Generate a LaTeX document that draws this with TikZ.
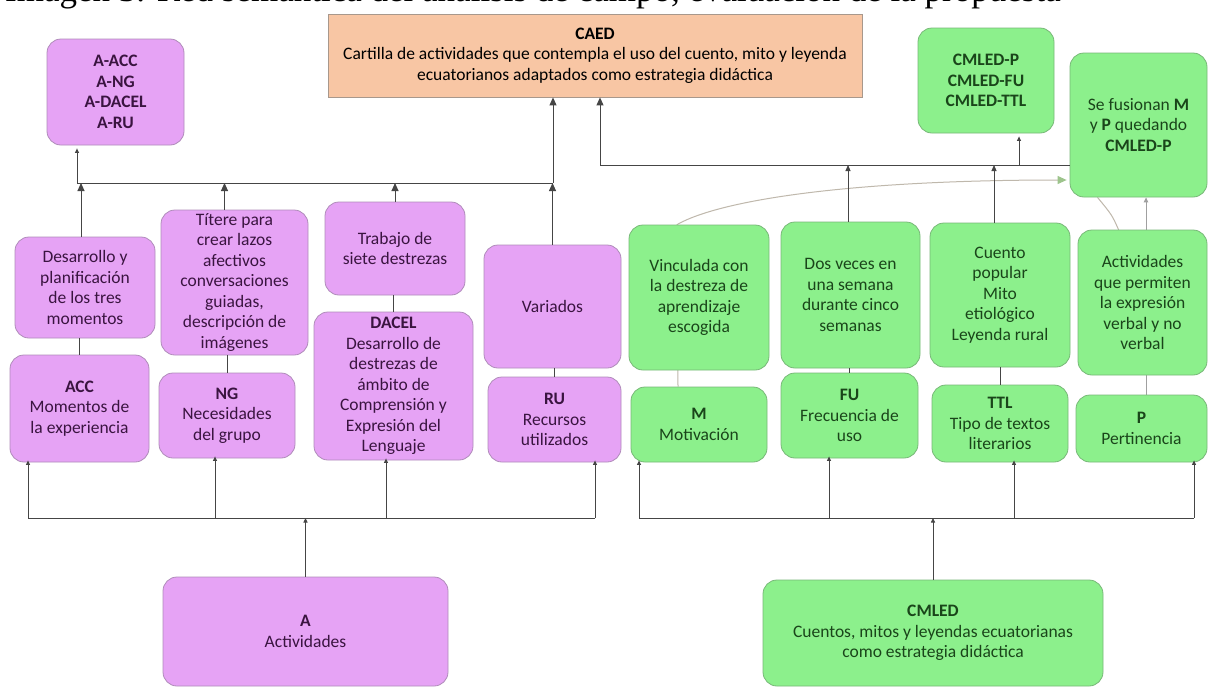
\documentclass[tikz,border=0pt]{standalone}
\usepackage{fontspec}
\setmainfont{Carlito}
\newfontfamily\capfont{Liberation Serif}
\usetikzlibrary{arrows.meta}
\definecolor{pfill}{HTML}{E6A3F5}
\definecolor{pdraw}{HTML}{B08CBA}
\definecolor{ptext}{HTML}{3A1440}
\definecolor{gfill}{HTML}{8CF08C}
\definecolor{gdraw}{HTML}{78B878}
\definecolor{gtext}{HTML}{1A451A}
\definecolor{ofill}{HTML}{F8C6A4}
\definecolor{odraw}{HTML}{A8988C}
\definecolor{lc}{HTML}{454545}
\definecolor{lightc}{HTML}{BFB8AC}
\definecolor{lighttip}{HTML}{9DC48C}
\definecolor{midc}{HTML}{A0A0A0}
\pgfdeclarelayer{bg}
\pgfdeclarelayer{paper}
\pgfsetlayers{paper,bg,main}
\tikzset{
  box/.style={rounded corners=14pt, line width=0.8pt, align=center, inner sep=2pt,
              font=\fontsize{17.5}{20.5}\selectfont},
  pbox/.style={box, fill=pfill, draw=pdraw, text=ptext},
  gbox/.style={box, fill=gfill, draw=gdraw, text=gtext},
  obox/.style={box, rounded corners=0pt, fill=ofill, draw=odraw, text=black},
  conn/.style={draw=lc, line width=0.9pt},
  bigtip/.style={-{Triangle[length=8pt,width=7pt]}},
  midtip/.style={-{Triangle[length=6pt,width=5pt]}},
  smalltip/.style={-{Triangle[length=4.5pt,width=4pt]}},
}
\begin{document}
\begin{tikzpicture}[x=1pt,y=-1pt]
\useasboundingbox (0,0) rectangle (1209,689);
\begin{pgfonlayer}{paper}
  \fill[white] (0,0) rectangle (1209,689);
\end{pgfonlayer}

% caption (cut at top)
\node[anchor=base west, inner sep=0pt, font=\capfont\fontsize{35}{40}\selectfont] (cap) at (5,1)
  {Imagen 3. Red semántica del análisis de campo, evaluación de la propuesta};

% top nodes
\node[pbox, minimum width=137pt, minimum height=106pt] (AACC) at (115.5,92)
  {\textbf{A-ACC}\\\textbf{A-NG}\\\textbf{A-DACEL}\\\textbf{A-RU}};
\node[obox, minimum width=534pt, minimum height=83pt] (CAED) at (595,55.5)
  {\textbf{CAED}\\Cartilla de actividades que contempla el uso del cuento, mito y leyenda\\ecuatorianos adaptados como estrategia didáctica};
\node[gbox, minimum width=136pt, minimum height=105pt] (CMLEDP) at (986,80.5)
  {\textbf{CMLED-P}\\\textbf{CMLED-FU}\\\textbf{CMLED-TTL}};
\node[gbox, minimum width=137pt, minimum height=144pt] (Fusion) at (1138.5,125)
  {Se fusionan \textbf{M}\\y \textbf{P} quedando\\\textbf{CMLED-P}};

% left upper row
\node[pbox, minimum width=140pt, minimum height=101pt] (Desarrollo) at (85,287.5)
  {Desarrollo y\\planificación\\de los tres\\momentos};
\node[pbox, minimum width=147pt, minimum height=145pt] (Titere) at (234.5,282.5)
  {Títere para\\crear lazos\\afectivos\\conversaciones\\guiadas,\\descripción de\\imágenes};
\node[pbox, minimum width=140pt, minimum height=93pt] (Trabajo) at (395,248.5)
  {Trabajo de\\siete destrezas};
\node[pbox, minimum width=137pt, minimum height=123pt] (Variados) at (552.5,306.5)
  {Variados};
% left lower row
\node[pbox, minimum width=139pt, minimum height=107pt] (ACC) at (79.5,408.5)
  {\textbf{ACC}\\Momentos de\\la experiencia};
\node[pbox, minimum width=136pt, minimum height=85pt] (NG) at (227,415.5)
  {\textbf{NG}\\Necesidades\\del grupo};
\node[pbox, minimum width=159pt, minimum height=148pt] (DACEL) at (393.5,386)
  {\textbf{DACEL}\\Desarrollo de\\destrezas de\\ámbito de\\Comprensión y\\Expresión del\\Lenguaje};
\node[pbox, minimum width=133pt, minimum height=85pt] (RU) at (554.5,419.5)
  {\textbf{RU}\\Recursos\\utilizados};

% right upper row
\node[gbox, minimum width=140pt, minimum height=145pt] (Vinculada) at (699,297.5)
  {Vinculada con\\la destreza de\\aprendizaje\\escogida};
\node[gbox, minimum width=139pt, minimum height=146pt] (Dosveces) at (850.5,295)
  {Dos veces en\\una semana\\durante cinco\\semanas};
\node[gbox, minimum width=140pt, minimum height=144pt] (Cuento) at (1000,295)
  {Cuento\\popular\\Mito\\etiológico\\Leyenda rural};
\node[gbox, minimum width=129pt, minimum height=145pt] (Activ) at (1142.5,302.5)
  {Actividades\\que permiten\\la expresión\\verbal y no\\verbal};
% right lower row
\node[gbox, minimum width=136pt, minimum height=75pt] (M) at (699,424.5)
  {\textbf{M}\\Motivación};
\node[gbox, minimum width=137pt, minimum height=85pt] (FU) at (849.5,415.5)
  {\textbf{FU}\\Frecuencia de\\uso};
\node[gbox, minimum width=136pt, minimum height=77pt] (TTL) at (1000,423.5)
  {\textbf{TTL}\\Tipo de textos\\literarios};
\node[gbox, minimum width=131pt, minimum height=67pt] (P) at (1141.5,428.5)
  {\textbf{P}\\Pertinencia};

% bottom
\node[pbox, minimum width=285pt, minimum height=109pt] (A) at (305.5,631.5)
  {\textbf{A}\\Actividades};
\node[gbox, minimum width=340pt, minimum height=106pt] (CMLED) at (933,633)
  {\textbf{CMLED}\\Cuentos, mitos y leyendas ecuatorianas\\como estrategia didáctica};

% light connectors behind boxes
\begin{pgfonlayer}{bg}
  \draw[draw=lightc, line width=1pt, -{Triangle[length=9pt,width=8pt,color=lighttip]}]
    ([xshift=-21pt]M.north) -- ([xshift=-22pt]Vinculada.north)
    .. controls (720,200) and (850,180) .. ([xshift=-3pt]Fusion.west |- 0,180);
  \draw[draw=lightc, line width=1pt]
    ([xshift=-18pt]Activ.center) -- ([xshift=-24pt]Activ.north)
    .. controls (1112,215) .. ([xshift=-41pt]Fusion.south);
  \draw[draw=midc, line width=0.9pt, -{Triangle[length=5pt,width=4.5pt]}]
    ([xshift=4.5pt]P.north) -- ([xshift=7.5pt]Fusion.south);
\end{pgfonlayer}

% left top bus
\coordinate (lbL) at (77,183);
\coordinate (lbR) at (553,183);
\draw[conn] (lbL) -- (lbR);
\draw[conn, smalltip] (lbL) -- ([yshift=-3pt]lbL |- AACC.south);
\draw[conn, bigtip] (lbR) -- (lbR |- CAED.south);
\draw[conn, bigtip] ([xshift=-4pt]Desarrollo.north) -- ([xshift=-4pt]Desarrollo.north |- lbL);
\draw[conn, bigtip] ([xshift=-10pt]Titere.north) -- ([xshift=-10pt]Titere.north |- lbL);
\draw[conn, bigtip] (Trabajo.north) -- (Trabajo.north |- lbL);
\draw[conn, bigtip] (Variados.north) -- (Variados.north |- lbL);
% left between rows
\draw[conn] (ACC.north |- Desarrollo.south) -- (ACC.north);
\draw[conn] (NG.north |- Titere.south) -- (NG.north);
\draw[conn] (DACEL.north |- Trabajo.south) -- (DACEL.north);
\draw[conn] (RU.north |- Variados.south) -- (RU.north);

% right top bus
\coordinate (rbL) at (600,165);
\coordinate (rbM) at (1019,165);
\draw[conn] (rbL) -- (Fusion.west |- rbL);
\draw[conn, bigtip] (rbL) -- (rbL |- CAED.south);
\draw[conn, smalltip] (rbM) -- ([yshift=-3pt]rbM |- CMLEDP.south);
\draw[conn, midtip] ([xshift=-2.5pt]Dosveces.north) -- ([xshift=-2.5pt]Dosveces.north |- rbL);
\draw[conn, midtip] ([xshift=-6pt]Cuento.north) -- ([xshift=-6pt]Cuento.north |- rbL);
% right between rows
\draw[conn] (FU.north |- Dosveces.south) -- (FU.north);
\draw[conn] (TTL.north |- Cuento.south) -- (TTL.north);

% bottom left bus
\coordinate (blL) at (28,518);
\coordinate (blR) at (595,518);
\draw[conn] (blL) -- (blR);
\draw[conn, smalltip] (A.north) -- (A.north |- blL);
\draw[conn, smalltip] (blL) -- ([yshift=2pt]blL |- ACC.south);
\draw[conn, smalltip] (215,518) -- ([yshift=2pt]215,0 |- NG.south);
\draw[conn, smalltip] (386,518) -- ([yshift=2pt]386,0 |- DACEL.south);
\draw[conn, smalltip] (blR) -- ([yshift=2pt]blR |- RU.south);

% bottom right bus
\coordinate (brL) at (639,518);
\coordinate (brR) at (1194,518);
\draw[conn] (brL) -- (brR);
\draw[conn, smalltip] (CMLED.north) -- (CMLED.north |- brL);
\draw[conn, smalltip] (brL) -- ([yshift=2pt]brL |- M.south);
\draw[conn, smalltip] (829,518) -- ([yshift=2pt]829,0 |- FU.south);
\draw[conn, smalltip] (1014,518) -- ([yshift=2pt]1014,0 |- TTL.south);
\draw[conn, smalltip] (brR) -- ([yshift=2pt]brR |- P.south);
\end{tikzpicture}
\end{document}
